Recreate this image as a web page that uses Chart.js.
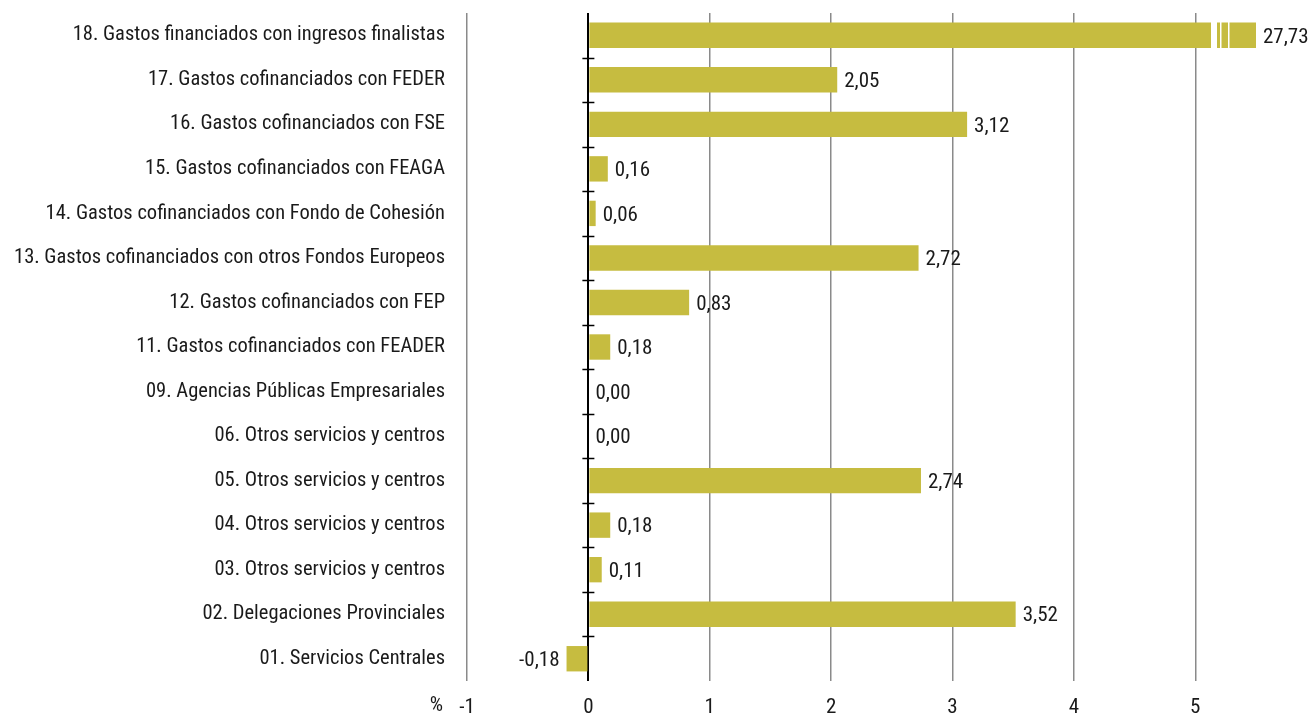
<!DOCTYPE html>
<html>
<head>
<meta charset="utf-8">
<script src="https://cdn.jsdelivr.net/npm/chart.js@4"></script>
<style>
  html, body { margin: 0; padding: 0; background: #fff; }
  #wrap { width: 1316px; height: 715px; }
</style>
</head>
<body>
<div id="wrap"><canvas id="chart-bar"></canvas></div>
<script>
var categories = [
  "18. Gastos financiados con ingresos finalistas",
  "17. Gastos cofinanciados con FEDER",
  "16. Gastos cofinanciados con FSE",
  "15. Gastos cofinanciados con FEAGA",
  "14. Gastos cofinanciados con Fondo de Cohesión",
  "13. Gastos cofinanciados con otros Fondos Europeos",
  "12. Gastos cofinanciados con FEP",
  "11. Gastos cofinanciados con FEADER",
  "09. Agencias Públicas Empresariales",
  "06. Otros servicios y centros",
  "05. Otros servicios y centros",
  "04. Otros servicios y centros",
  "03. Otros servicios y centros",
  "02. Delegaciones Provinciales",
  "01. Servicios Centrales"
];
var values = [27.73, 2.05, 3.12, 0.16, 0.06, 2.72, 0.83, 0.18, 0.00, 0.00, 2.74, 0.18, 0.11, 3.52, -0.18];
var xTicks = [-1, 0, 1, 2, 3, 4, 5];
var axisMin = -1;
var axisMax = 5.5;   // bars longer than this are cut with a break mark

var FONT = "'Roboto Condensed', 'DejaVu Sans Condensed', 'Liberation Sans Narrow', 'Roboto', sans-serif";
var TEXT = "#1a1a1a";
var BAR = "#c6bc40";

function fmt(v) {
  return v.toFixed(2).replace(".", ",");
}

var shown = values.map(function (v) { return Math.min(v, axisMax); });

// value labels, break marks on cut bars, little ticks on the zero line, "%" before -1
var extras = {
  id: "extras",
  afterDatasetsDraw: function (chart) {
    var c = chart.ctx;
    var x = chart.scales.x, y = chart.scales.y;
    var meta = chart.getDatasetMeta(0);
    c.save();
    // breaks
    meta.data.forEach(function (bar, i) {
      if (values[i] > axisMax) {
        var top = bar.y - bar.height / 2 - 1, h = bar.height + 2;
        c.fillStyle = "#fff";
        c.fillRect(bar.x - 45, top, 6, h);
        c.fillRect(bar.x - 36, top, 1.5, h);
        c.fillRect(bar.x - 28, top, 1.5, h);
      }
    });
    // zero line ticks
    var x0 = x.getPixelForValue(0);
    c.strokeStyle = "#000";
    c.lineWidth = 1.5;
    for (var i = 0; i < categories.length - 1; i++) {
      var yy = Math.round((y.getPixelForValue(i) + y.getPixelForValue(i + 1)) / 2) + 0.5;
      c.beginPath();
      c.moveTo(x0 - 6, yy);
      c.lineTo(x0 + 6, yy);
      c.stroke();
    }
    // labels
    c.font = "21px " + FONT;
    c.fillStyle = TEXT;
    c.textBaseline = "middle";
    meta.data.forEach(function (bar, i) {
      var v = values[i];
      if (v < 0) {
        c.textAlign = "right";
        c.fillText(fmt(v), bar.x - 7, bar.y + 2);
      } else {
        c.textAlign = "left";
        c.fillText(fmt(v), bar.x + 7, bar.y + 2);
      }
    });
    // "%" prefix of the axis
    c.textAlign = "right";
    c.textBaseline = "top";
    c.fillText("%", x.getPixelForValue(axisMin) - 24, chart.chartArea.bottom + 14);
    c.restore();
  }
};

var ctx = document.getElementById("chart-bar").getContext("2d");
new Chart(ctx, {
  type: "bar",
  data: {
    labels: categories,
    datasets: [{
      data: shown,
      backgroundColor: BAR,
      borderWidth: 0,
      barPercentage: 0.57,
      categoryPercentage: 1.0
    }]
  },
  options: {
    indexAxis: "y",
    responsive: true,
    maintainAspectRatio: false,
    animation: false,
    layout: { padding: { top: 13, right: 60, bottom: 0, left: 0 } },
    plugins: {
      legend: { display: false },
      tooltip: { enabled: false }
    },
    scales: {
      x: {
        type: "linear",
        min: axisMin,
        max: axisMax,
        afterBuildTicks: function (axis) {
          axis.ticks = xTicks.map(function (v) { return { value: v }; });
        },
        afterFit: function (axis) {
          axis.height = 34;
          axis.paddingLeft = 0; axis.paddingRight = 0;
        },
        border: { display: false },
        grid: {
          drawTicks: false,
          color: function (c) { return c.tick && c.tick.value === 0 ? "#000" : "#8a8a8a"; },
          lineWidth: function (c) { return c.tick && c.tick.value === 0 ? 2 : 1.5; }
        },
        ticks: {
          padding: 14,
          color: TEXT,
          maxRotation: 0,
          font: { size: 21, family: FONT },
          callback: function (v) { return String(v); }
        }
      },
      y: {
        afterFit: function (axis) {
          axis.width = 467;
          axis.paddingTop = 0; axis.paddingBottom = 0;
        },
        border: { display: false },
        grid: { display: false, drawTicks: false },
        ticks: {
          padding: 22,
          color: TEXT,
          autoSkip: false,
          font: { size: 20.5, family: FONT }
        }
      }
    }
  },
  plugins: [extras]
});
</script>
</body>
</html>
